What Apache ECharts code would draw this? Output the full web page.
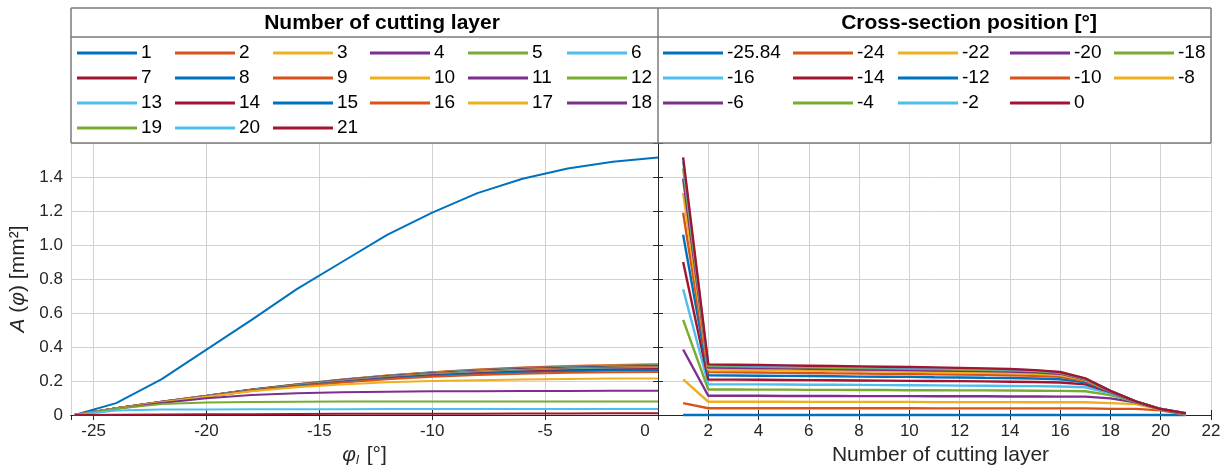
<!DOCTYPE html>
<html>
<head>
<meta charset="utf-8">
<script src="https://cdn.jsdelivr.net/npm/echarts@6.0.0/dist/echarts.min.js"></script>
<style>
  html, body { margin: 0; padding: 0; background: #ffffff; }
  #chart { width: 1221px; height: 466px; }
</style>
</head>
<body>
<div id="chart"></div>
<script>
// Cross-section positions (deg) and cutting layer numbers
const positions = [-25.84, -24, -22, -20, -18, -16, -14, -12, -10, -8, -6, -4, -2, 0];
const positionLabels = ['-25.84', '-24', '-22', '-20', '-18', '-16', '-14', '-12', '-10', '-8', '-6', '-4', '-2', '0'];
const layerNumbers = [1, 2, 3, 4, 5, 6, 7, 8, 9, 10, 11, 12, 13, 14, 15, 16, 17, 18, 19, 20, 21];
const layerLabels = layerNumbers.map(String);

// Cross-section area A (mm^2) of each cutting layer, one value per position
const area01 = [0, 0.070, 0.210, 0.385, 0.560, 0.740, 0.900, 1.060, 1.190, 1.305, 1.390, 1.450, 1.490, 1.515];
const area02 = [0, 0.040, 0.078, 0.113, 0.150, 0.181, 0.209, 0.233, 0.252, 0.267, 0.279, 0.288, 0.294, 0.298];
const area03 = [0, 0.040, 0.078, 0.113, 0.150, 0.180, 0.208, 0.232, 0.251, 0.266, 0.277, 0.286, 0.292, 0.296];
const area04 = [0, 0.040, 0.078, 0.113, 0.149, 0.180, 0.207, 0.231, 0.250, 0.264, 0.276, 0.284, 0.290, 0.294];
const area05 = [0, 0.040, 0.078, 0.112, 0.149, 0.179, 0.206, 0.230, 0.248, 0.262, 0.274, 0.282, 0.288, 0.292];
const area06 = [0, 0.040, 0.077, 0.112, 0.148, 0.178, 0.205, 0.229, 0.247, 0.261, 0.272, 0.280, 0.286, 0.290];
const area07 = [0, 0.040, 0.077, 0.112, 0.148, 0.178, 0.204, 0.228, 0.245, 0.259, 0.270, 0.278, 0.284, 0.288];
const area08 = [0, 0.040, 0.077, 0.111, 0.147, 0.177, 0.203, 0.226, 0.244, 0.258, 0.268, 0.276, 0.282, 0.286];
const area09 = [0, 0.040, 0.077, 0.111, 0.147, 0.176, 0.202, 0.225, 0.242, 0.256, 0.266, 0.274, 0.280, 0.284];
const area10 = [0, 0.040, 0.077, 0.111, 0.146, 0.175, 0.201, 0.224, 0.241, 0.254, 0.264, 0.272, 0.278, 0.282];
const area11 = [0, 0.039, 0.076, 0.110, 0.146, 0.174, 0.200, 0.222, 0.239, 0.252, 0.262, 0.270, 0.276, 0.280];
const area12 = [0, 0.039, 0.076, 0.110, 0.145, 0.173, 0.199, 0.221, 0.238, 0.250, 0.260, 0.268, 0.273, 0.277];
const area13 = [0, 0.039, 0.076, 0.110, 0.145, 0.172, 0.198, 0.219, 0.236, 0.248, 0.258, 0.266, 0.271, 0.274];
const area14 = [0, 0.039, 0.076, 0.109, 0.144, 0.171, 0.196, 0.218, 0.234, 0.246, 0.256, 0.263, 0.268, 0.271];
const area15 = [0, 0.039, 0.075, 0.109, 0.143, 0.170, 0.194, 0.215, 0.231, 0.242, 0.251, 0.258, 0.262, 0.264];
const area16 = [0, 0.039, 0.075, 0.108, 0.142, 0.168, 0.191, 0.210, 0.225, 0.235, 0.243, 0.248, 0.251, 0.253];
const area17 = [0, 0.039, 0.075, 0.108, 0.140, 0.163, 0.180, 0.192, 0.200, 0.205, 0.209, 0.212, 0.214, 0.215];
const area18 = [0, 0.036, 0.070, 0.098, 0.117, 0.128, 0.134, 0.137, 0.139, 0.140, 0.141, 0.141, 0.142, 0.142];
const area19 = [0, 0.036, 0.064, 0.074, 0.077, 0.078, 0.079, 0.079, 0.080, 0.080, 0.080, 0.080, 0.080, 0.080];
const area20 = [0, 0.027, 0.032, 0.033, 0.034, 0.034, 0.034, 0.035, 0.035, 0.035, 0.035, 0.035, 0.035, 0.035];
const area21 = [0, 0.002, 0.003, 0.004, 0.005, 0.006, 0.007, 0.007, 0.008, 0.008, 0.009, 0.009, 0.010, 0.010];

const areaByLayer = [area01, area02, area03, area04, area05, area06, area07, area08, area09, area10,
  area11, area12, area13, area14, area15, area16, area17, area18, area19, area20, area21];

// Tick values on the y axis
const yTicks = [0, 0.2, 0.4, 0.6, 0.8, 1.0, 1.2, 1.4];

const palette = ['#0072BD', '#D95319', '#EDB120', '#7E2F8E', '#77AC30', '#4DBEEE', '#A2142F'];
const FONT = "'Liberation Sans', Arial, Helvetica, sans-serif";
const AXIS_COLOR = '#262626';
const GRID_COLOR = '#d2d2d2';
const BOX_COLOR = '#7a7a7a';

// Plot frame geometry (px)
const LEFT_X0 = 71, MID_X = 658, RIGHT_X1 = 1211;
const TOP_Y = 8, TITLE_Y = 37, PLOT_Y0 = 143, PLOT_Y1 = 415;

const chart = echarts.init(document.getElementById('chart'), null, { renderer: 'canvas' });

// Area versus position: one curve per cutting layer
const layerSeries = layerLabels.map((name, i) => ({
  type: 'line', name,
  xAxisIndex: 0, yAxisIndex: 0,
  data: positions.map((p, j) => [p, areaByLayer[i][j]]),
  color: palette[i % 7],
  itemStyle: { color: palette[i % 7] },
  lineStyle: { width: 2, color: palette[i % 7] },
  symbol: 'none', showSymbol: false, silent: true, clip: false,
  emphasis: { disabled: true }
}));

// Area versus cutting layer: one curve per cross-section position
const positionSeries = positionLabels.map((name, j) => ({
  type: 'line', name,
  xAxisIndex: 1, yAxisIndex: 1,
  data: layerNumbers.map((l, i) => [l, areaByLayer[i][j]]),
  color: palette[j % 7],
  itemStyle: { color: palette[j % 7] },
  lineStyle: { width: 2.4, color: palette[j % 7] },
  symbol: 'none', showSymbol: false, silent: true, clip: false, z: 3,
  emphasis: { disabled: true }
}));

// Legend columns (filled row by row, as in the figure)
function columns(labels, nCols) {
  const cols = [];
  for (let c = 0; c < nCols; c++) cols.push([]);
  labels.forEach((l, k) => cols[k % nCols].push(l));
  return cols;
}
const layerCols = columns(layerLabels, 6);
const layerColX = [77, 175, 273, 370, 468, 567];
const posCols = columns(positionLabels, 5);
const posColX = [663, 793, 898, 1010, 1114];

function legendColumn(data, x) {
  return {
    orient: 'vertical', left: x, top: 43, padding: 0, itemGap: 5,
    itemWidth: 60, itemHeight: 3, icon: 'rect', selectedMode: false,
    data,
    textStyle: { fontFamily: FONT, fontSize: 19, lineHeight: 20, color: '#000', padding: [0, 0, 0, -1] }
  };
}
const legends = layerCols.map((d, c) => legendColumn(d, layerColX[c]))
  .concat(posCols.map((d, c) => legendColumn(d, posColX[c])));

const tickInside = { show: true, inside: true, length: 5, lineStyle: { color: AXIS_COLOR, width: 1 } };
const axisLineStyle = { show: true, lineStyle: { color: AXIS_COLOR, width: 1 } };
const labelStyle = { fontFamily: FONT, fontSize: 17, color: AXIS_COLOR };

const option = {
  animation: false,
  backgroundColor: '#ffffff',
  grid: [
    { left: LEFT_X0, top: PLOT_Y0, width: MID_X - LEFT_X0, height: PLOT_Y1 - PLOT_Y0, containLabel: false, outerBoundsMode: 'none' },
    { left: MID_X, top: PLOT_Y0, width: RIGHT_X1 - MID_X, height: PLOT_Y1 - PLOT_Y0, containLabel: false, outerBoundsMode: 'none' }
  ],
  legend: legends,
  xAxis: [
    {
      gridIndex: 0, type: 'value', min: -26, max: 0, splitNumber: 5,
      axisLine: axisLineStyle, axisTick: tickInside,
      axisLabel: Object.assign({}, labelStyle, {
        margin: 8, showMinLabel: false,
        formatter: v => (v === 0 ? '{z|0}' : String(v)),
        rich: { z: { fontFamily: FONT, fontSize: 17, color: AXIS_COLOR, padding: [0, 26, 0, 0] } }
      }),
      splitLine: { show: true, lineStyle: { color: GRID_COLOR, width: 1 } },
      name: '{i|φ}{s|l} [°]', nameLocation: 'middle', nameGap: 22,
      nameTextStyle: {
        fontFamily: FONT, fontSize: 21, color: AXIS_COLOR,
        rich: {
          i: { fontFamily: FONT, fontSize: 21, fontStyle: 'italic', color: AXIS_COLOR },
          s: { fontFamily: FONT, fontSize: 13, fontStyle: 'italic', color: AXIS_COLOR, padding: [10, 2, 0, 0] }
        }
      }
    },
    {
      gridIndex: 1, type: 'value', min: 0, max: 22, interval: 2,
      axisLine: axisLineStyle, axisTick: tickInside,
      axisLabel: Object.assign({}, labelStyle, { margin: 8, showMinLabel: false }),
      splitLine: { show: true, lineStyle: { color: GRID_COLOR, width: 1 } },
      name: 'Number of cutting layer', nameLocation: 'middle', nameGap: 21,
      nameTextStyle: { fontFamily: FONT, fontSize: 21, color: AXIS_COLOR, padding: [0, 0, 0, 12] }
    },
    {
      gridIndex: 0, type: 'value', position: 'top', min: -26, max: 0, splitNumber: 5,
      axisLine: axisLineStyle, axisTick: tickInside, axisLabel: { show: false }, splitLine: { show: false }
    },
    {
      gridIndex: 1, type: 'value', position: 'top', min: 0, max: 22, interval: 2,
      axisLine: axisLineStyle, axisTick: tickInside, axisLabel: { show: false }, splitLine: { show: false }
    }
  ],
  yAxis: [
    {
      gridIndex: 0, type: 'value', min: yTicks[0], max: 1.6, interval: 0.2,
      axisLine: axisLineStyle, axisTick: tickInside,
      axisLabel: Object.assign({}, labelStyle, {
        margin: 8, showMaxLabel: false,
        formatter: v => (v === 0 ? '0' : v.toFixed(1))
      }),
      splitLine: { show: true, lineStyle: { color: GRID_COLOR, width: 1 } },
      name: '{i|A} ({i|φ}) [mm²]', nameLocation: 'middle', nameGap: 42, nameRotate: 90,
      nameTextStyle: {
        fontFamily: FONT, fontSize: 21, color: AXIS_COLOR,
        rich: { i: { fontFamily: FONT, fontSize: 21, fontStyle: 'italic', color: AXIS_COLOR } }
      }
    },
    {
      gridIndex: 1, type: 'value', min: yTicks[0], max: 1.6, interval: 0.2,
      axisLine: axisLineStyle, axisTick: tickInside, axisLabel: { show: false },
      splitLine: { show: true, lineStyle: { color: GRID_COLOR, width: 1 } }
    },
    {
      gridIndex: 0, type: 'value', position: 'right', min: yTicks[0], max: 1.6, interval: 0.2,
      axisLine: axisLineStyle, axisTick: tickInside, axisLabel: { show: false }, splitLine: { show: false }
    },
    {
      gridIndex: 1, type: 'value', position: 'right', min: yTicks[0], max: 1.6, interval: 0.2,
      axisLine: axisLineStyle, axisTick: tickInside, axisLabel: { show: false }, splitLine: { show: false }
    }
  ],
  series: layerSeries.concat(positionSeries),
  graphic: [
    // Title and legend boxes above both plots
    { type: 'line', silent: true, z: 100, shape: { x1: LEFT_X0, y1: TOP_Y, x2: RIGHT_X1, y2: TOP_Y }, style: { stroke: BOX_COLOR, lineWidth: 1.5 } },
    { type: 'line', silent: true, z: 100, shape: { x1: LEFT_X0, y1: TITLE_Y, x2: RIGHT_X1, y2: TITLE_Y }, style: { stroke: BOX_COLOR, lineWidth: 1.5 } },
    { type: 'line', silent: true, z: 100, shape: { x1: LEFT_X0, y1: PLOT_Y0, x2: RIGHT_X1, y2: PLOT_Y0 }, style: { stroke: BOX_COLOR, lineWidth: 1.5 } },
    { type: 'line', silent: true, z: 100, shape: { x1: LEFT_X0, y1: TOP_Y, x2: LEFT_X0, y2: PLOT_Y0 }, style: { stroke: BOX_COLOR, lineWidth: 1.5 } },
    { type: 'line', silent: true, z: 100, shape: { x1: MID_X, y1: TOP_Y, x2: MID_X, y2: PLOT_Y0 }, style: { stroke: BOX_COLOR, lineWidth: 1.5 } },
    { type: 'line', silent: true, z: 100, shape: { x1: RIGHT_X1, y1: TOP_Y, x2: RIGHT_X1, y2: PLOT_Y0 }, style: { stroke: BOX_COLOR, lineWidth: 1.5 } },
    {
      type: 'text', silent: true, z: 100, x: 382, y: 23,
      style: { text: 'Number of cutting layer', align: 'center', verticalAlign: 'middle', fontFamily: FONT, fontSize: 21, fontWeight: 'bold', fill: '#000' }
    },
    {
      type: 'text', silent: true, z: 100, x: 969, y: 23,
      style: { text: 'Cross-section position [°]', align: 'center', verticalAlign: 'middle', fontFamily: FONT, fontSize: 21, fontWeight: 'bold', fill: '#000' }
    }
  ]
};

chart.setOption(option);
</script>
</body>
</html>
